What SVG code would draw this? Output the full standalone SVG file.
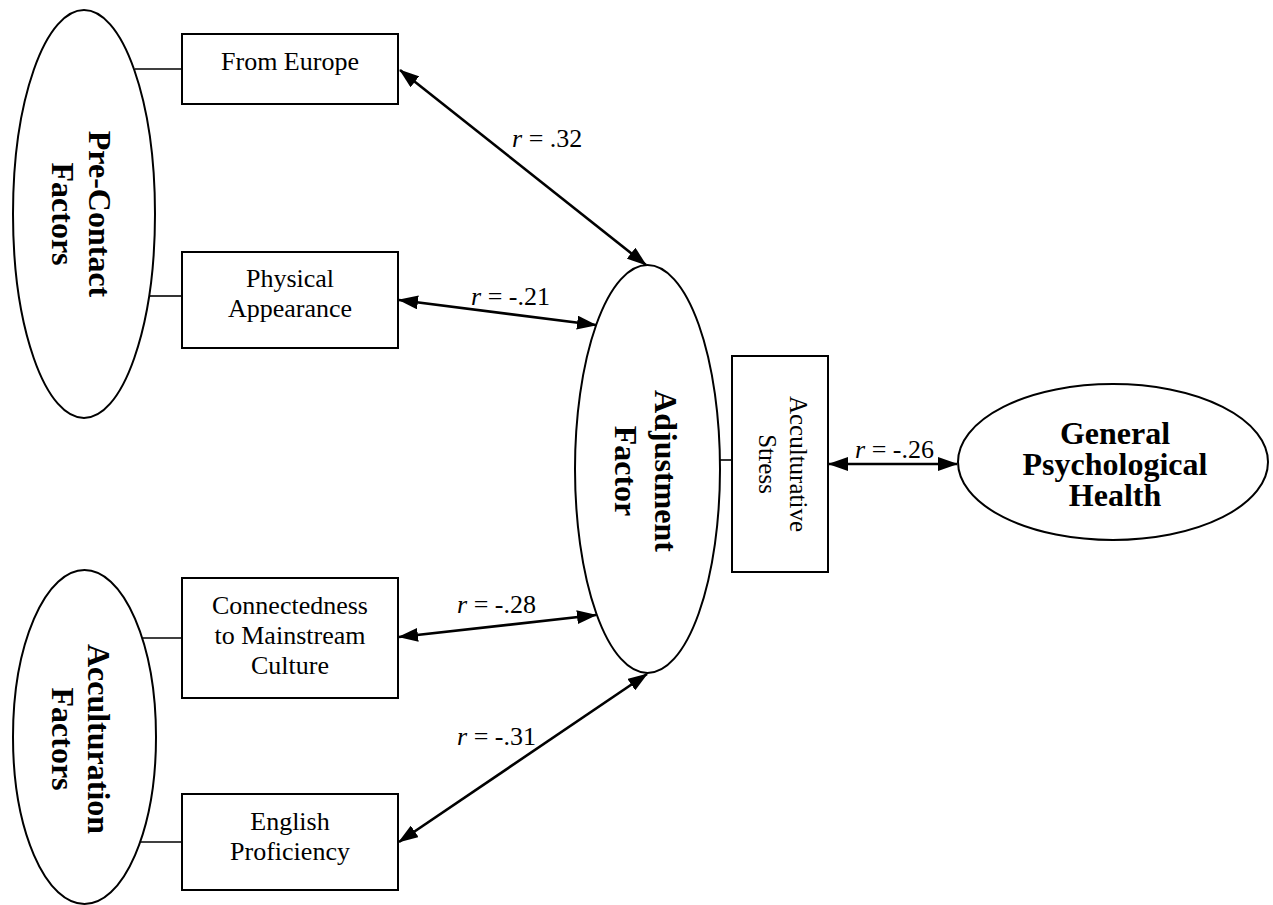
<svg xmlns="http://www.w3.org/2000/svg" width="1273" height="905" viewBox="0 0 1273 905">
<style>
.shape{fill:#fff;stroke:#000;stroke-width:2}
.link{stroke:#000;stroke-width:1.6;fill:none}
.arrow{stroke:#000;stroke-width:2.6;fill:none;marker-start:url(#ah);marker-end:url(#ah)}
text{font-family:"Liberation Serif","Times New Roman",serif;fill:#000}
.lbl{font-size:26px}
.big{font-size:32px;font-weight:bold}
.r{font-size:26px}
</style>
<defs>
<marker id="ah" markerUnits="userSpaceOnUse" viewBox="0 0 20 14" refX="19" refY="7" markerWidth="20" markerHeight="14" orient="auto-start-reverse">
<path d="M0,0 L20,7 L0,14 Z" fill="#000"/>
</marker>
</defs>
<rect width="1273" height="905" fill="#fff"/>
<g id="connectors">
<line class="link" x1="135" y1="69" x2="182" y2="69"/>
<line class="link" x1="150" y1="296" x2="182" y2="296"/>
<line class="link" x1="143" y1="638" x2="182" y2="638"/>
<line class="link" x1="141" y1="842" x2="182" y2="842"/>
<line class="link" x1="720" y1="460" x2="732" y2="460"/>
<line class="arrow" x1="400" y1="70" x2="646" y2="265"/>
<line class="arrow" x1="399" y1="300" x2="596" y2="325"/>
<line class="arrow" x1="399" y1="637" x2="596" y2="615"/>
<line class="arrow" x1="399" y1="842" x2="647" y2="674"/>
<line class="arrow" x1="829" y1="464" x2="957" y2="464"/>
<text class="r" x="512" y="147"><tspan font-style="italic">r</tspan> = .32</text>
<text class="r" x="471" y="305"><tspan font-style="italic">r</tspan> = -.21</text>
<text class="r" x="457" y="613"><tspan font-style="italic">r</tspan> = -.28</text>
<text class="r" x="457" y="745"><tspan font-style="italic">r</tspan> = -.31</text>
<text class="r" x="855" y="458"><tspan font-style="italic">r</tspan> = -.26</text>
</g>
<g id="precontact">
<ellipse class="shape" cx="84" cy="214" rx="71" ry="204"/>
<text class="big" text-anchor="middle" transform="translate(89,214) rotate(90)"><tspan x="0" y="0">Pre-Contact</tspan><tspan x="0" y="37">Factors</tspan></text>
</g>
<g id="acculturation">
<ellipse class="shape" cx="84.5" cy="737" rx="71.5" ry="167"/>
<text class="big" text-anchor="middle" transform="translate(88,739) rotate(90)"><tspan x="0" y="0">Acculturation</tspan><tspan x="0" y="36">Factors</tspan></text>
</g>
<g id="from-europe">
<rect class="shape" x="182" y="34" width="216" height="70"/>
<text class="lbl" text-anchor="middle" x="290" y="70">From Europe</text>
</g>
<g id="physical-appearance">
<rect class="shape" x="182" y="252" width="216" height="96"/>
<text class="lbl" text-anchor="middle" x="290" y="287">Physical</text>
<text class="lbl" text-anchor="middle" x="290" y="317">Appearance</text>
</g>
<g id="connectedness">
<rect class="shape" x="182" y="578" width="216" height="120"/>
<text class="lbl" text-anchor="middle" x="290" y="614">Connectedness</text>
<text class="lbl" text-anchor="middle" x="290" y="644">to Mainstream</text>
<text class="lbl" text-anchor="middle" x="290" y="674">Culture</text>
</g>
<g id="english">
<rect class="shape" x="182" y="794" width="216" height="96"/>
<text class="lbl" text-anchor="middle" x="290" y="830">English</text>
<text class="lbl" text-anchor="middle" x="290" y="860">Proficiency</text>
</g>
<g id="adjustment">
<ellipse class="shape" cx="647.5" cy="469" rx="72.5" ry="204"/>
<text class="big" text-anchor="middle" transform="translate(655,471) rotate(90)"><tspan x="0" y="0">Adjustment</tspan><tspan x="0" y="40">Factor</tspan></text>
</g>
<g id="acculturative-stress">
<rect class="shape" x="732" y="356" width="96" height="216"/>
<text class="lbl" text-anchor="middle" transform="translate(790,464) rotate(90)" style="font-size:25px"><tspan x="0" y="0">Acculturative</tspan><tspan x="0" y="31">Stress</tspan></text>
</g>
<g id="general-health">
<ellipse class="shape" cx="1113" cy="462" rx="155" ry="78"/>
<text class="big" text-anchor="middle" x="1115" y="444">General</text>
<text class="big" text-anchor="middle" x="1115" y="475">Psychological</text>
<text class="big" text-anchor="middle" x="1115" y="506">Health</text>
</g>
</svg>
